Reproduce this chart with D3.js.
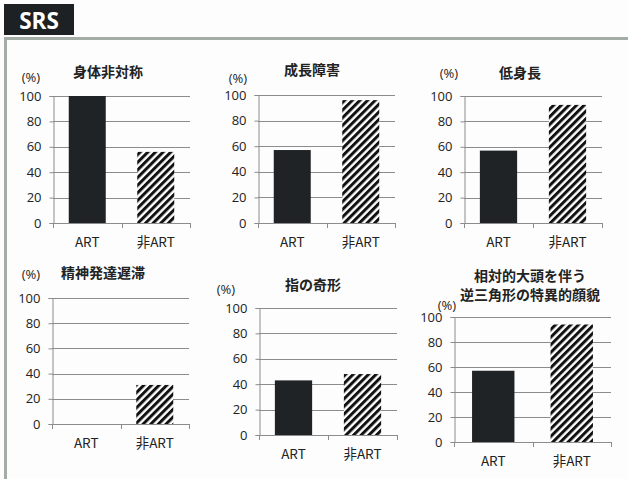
<!DOCTYPE html>
<html>
<head>
<meta charset="utf-8">
<script src="https://cdn.jsdelivr.net/npm/d3@7"></script>
<style>
  html, body { margin: 0; padding: 0; background: #fdfdfd; }
  svg { display: block; }
  .num { font-family: "Open Sans", "Noto Sans", sans-serif; font-size: 13px; fill: #222; }
  .ttl { font-family: "Noto Sans CJK JP", sans-serif; font-size: 14px; font-weight: bold; fill: #222; }
  .cat { font-family: "Noto Sans CJK JP", "Open Sans", sans-serif; font-size: 13.5px; fill: #222; }
</style>
</head>
<body>
<svg id="chart" width="628" height="479"></svg>
<script>
// Findings (percent of patients), ART-conceived vs. non-ART
const titles = [
  ["身体非対称"],
  ["成長障害"],
  ["低身長"],
  ["精神発達遅滞"],
  ["指の奇形"],
  ["相対的大頭を伴う", "逆三角形の特異的顔貌"]
];
const categories = ["ART", "非ART"];
const artValues    = [100, 57, 57, 0, 43, 57];
const nonArtValues = [56, 96, 93, 31, 48, 94];
const yTicks = [0, 20, 40, 60, 80, 100];
const unitLabel = "(%)";
const headerLabel = "SRS";

// Panel frames: plot area left/right, top (100%) and baseline (0%)
const frames = [
  { x0: 53,  x1: 190, yT: 96,  yB: 223, unit: [31, 78],  title: [108, 72] },
  { x0: 258, x1: 395, yT: 95,  yB: 223, unit: [238, 79], title: [312, 70] },
  { x0: 464, x1: 602, yT: 96,  yB: 223, unit: [449, 74], title: [520, 73] },
  { x0: 52,  x1: 189, yT: 298, yB: 424, unit: [31, 275], title: [103, 273] },
  { x0: 259, x1: 397, yT: 308, yB: 435, unit: [226, 290], title: [313, 285] },
  { x0: 454, x1: 611, yT: 317, yB: 442, unit: [447, 306], title: [530, 276] }
];

const svg = d3.select("#chart");

// Diagonal hatch for the non-ART bars
const defs = svg.append("defs");
defs.append("pattern")
  .attr("id", "hatch")
  .attr("patternUnits", "userSpaceOnUse")
  .attr("width", 5.4).attr("height", 5.4)
  .attr("patternTransform", "rotate(45)")
  .call(p => {
    p.append("rect").attr("width", 5.4).attr("height", 5.4).attr("fill", "#fff");
    p.append("rect").attr("width", 3).attr("height", 5.4).attr("fill", "#111");
  });

// Frame: header tab and grey border
svg.append("rect").attr("x", 4).attr("y", 37).attr("width", 624).attr("height", 3).attr("fill", "#a4aca6");
svg.append("rect").attr("x", 4).attr("y", 37).attr("width", 3).attr("height", 442).attr("fill", "#a4aca6");
svg.append("rect").attr("x", 4).attr("y", 4).attr("width", 70).attr("height", 31).attr("fill", "#1e2124");
svg.append("text").attr("x", 39).attr("y", 28.5)
  .attr("text-anchor", "middle")
  .attr("font-family", "Open Sans, sans-serif").attr("font-weight", "bold")
  .attr("font-size", 22.5).attr("fill", "#fff")
  .text(headerLabel);

const gridColor = "#8c8c8c";

frames.forEach((f, i) => {
  const g = svg.append("g");
  const x = d3.scaleBand().domain(categories).range([f.x0, f.x1])
    .paddingInner(0.46).paddingOuter(0.23);
  const y = d3.scaleLinear().domain([0, 100]).range([f.yB, f.yT]);

  // gridlines
  g.selectAll("line.grid").data(yTicks.filter(t => t > 0)).join("line")
    .attr("x1", f.x0).attr("x2", f.x1)
    .attr("y1", d => Math.round(y(d)) + 0.5).attr("y2", d => Math.round(y(d)) + 0.5)
    .attr("stroke", gridColor).attr("stroke-width", 1);

  // y axis
  const yAxis = d3.axisLeft(y).tickValues(yTicks).tickSize(4).tickPadding(8);
  const ya = g.append("g").attr("transform", `translate(${f.x0 + 0.5},0)`).call(yAxis);
  ya.select(".domain").attr("stroke", gridColor);
  ya.selectAll(".tick line").attr("stroke", gridColor);
  ya.selectAll(".tick text").attr("class", "num").attr("font-size", null).attr("font-family", null).attr("fill", null);

  // x axis baseline with Excel-style boundary ticks
  const xa = g.append("g");
  xa.append("line").attr("x1", f.x0).attr("x2", f.x1)
    .attr("y1", Math.round(f.yB) + 0.5).attr("y2", Math.round(f.yB) + 0.5)
    .attr("stroke", gridColor);
  const bounds = [f.x0, (f.x0 + f.x1) / 2, f.x1];
  xa.selectAll("line.bt").data(bounds).join("line")
    .attr("x1", d => Math.round(d) + 0.5).attr("x2", d => Math.round(d) + 0.5)
    .attr("y1", Math.round(f.yB)).attr("y2", Math.round(f.yB) + 5)
    .attr("stroke", gridColor);
  xa.selectAll("text").data(categories).join("text")
    .attr("class", "cat")
    .attr("x", d => x(d) + x.bandwidth() / 2)
    .attr("y", f.yB + 24)
    .attr("text-anchor", "middle")
    .text(d => d);

  // bars
  const vals = [artValues[i], nonArtValues[i]];
  g.selectAll("rect.bar").data(categories.map((c, k) => ({ c, v: vals[k] }))).join("rect")
    .attr("x", d => x(d.c))
    .attr("width", x.bandwidth())
    .attr("y", d => y(d.v))
    .attr("height", d => y(0) - y(d.v))
    .attr("fill", d => d.c === "ART" ? "#1f2326" : "url(#hatch)");

  // unit label
  g.append("text").attr("class", "num")
    .attr("x", f.unit[0]).attr("y", f.unit[1] + 4)
    .attr("text-anchor", "middle")
    .text(unitLabel);

  // title (one or two lines)
  titles[i].forEach((ln, k) => {
    g.append("text").attr("class", "ttl")
      .attr("x", f.title[0]).attr("y", f.title[1] + 5 + k * 19)
      .attr("text-anchor", "middle")
      .text(ln);
  });
});
</script>
</body>
</html>
